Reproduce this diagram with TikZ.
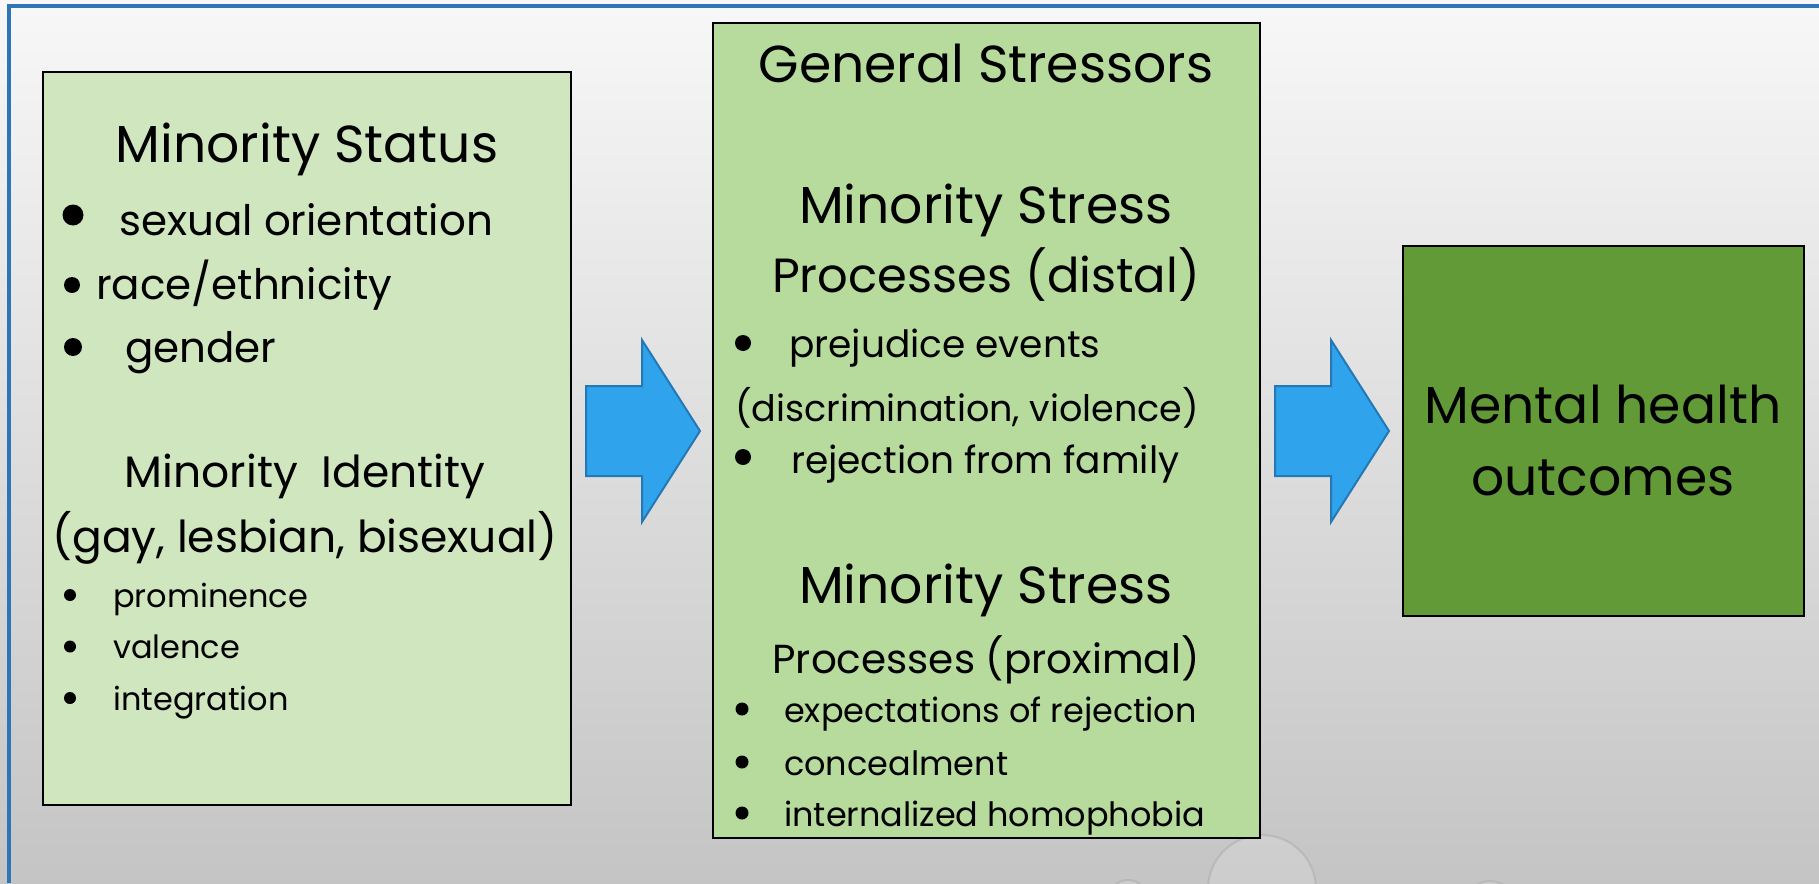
\documentclass[tikz,border=0pt]{standalone}
\usepackage{fontspec}
\setmainfont{Poppins}
\usetikzlibrary{positioning}
\definecolor{frameblue}{HTML}{2E75B6}
\definecolor{paleGreen}{HTML}{D0E6BF}
\definecolor{midGreen}{HTML}{B7DB9D}
\definecolor{darkGreen}{HTML}{629A38}
\definecolor{arrowBlue}{HTML}{2FA3EC}
\definecolor{arrowEdge}{HTML}{2478B5}
\newcommand{\fsL}{\fontsize{52}{60}\selectfont}
\newcommand{\fsP}{\fontsize{48}{56}\selectfont}
\newcommand{\fsI}{\fontsize{44}{52}\selectfont}
\newcommand{\fsM}{\fontsize{42}{50}\selectfont}
\newcommand{\fsQ}{\fontsize{40.5}{48}\selectfont}
\newcommand{\fsN}{\fontsize{37.5}{45}\selectfont}
\newcommand{\fsD}{\fontsize{36.5}{44}\selectfont}
\newcommand{\fsS}{\fontsize{33.5}{40}\selectfont}
\newcommand{\fsT}{\fontsize{32}{38}\selectfont}
\begin{document}
\begin{tikzpicture}[x=1pt,y=-1pt,
  box/.style={draw=black,line width=2.5pt,rectangle,inner sep=0pt},
  bigarrow/.style={fill=arrowBlue,draw=arrowEdge,line width=2pt,line join=miter},
  head/.style={inner sep=0pt,anchor=base},
  item/.style={inner sep=0pt,anchor=base west},
  blt/.style={circle,fill=black,inner sep=0pt,minimum size=#1},
  blt/.default=12pt,
  bubble/.style={fill=white,fill opacity=0.15,draw=gray!70,draw opacity=0.45,line width=2pt}]
  \useasboundingbox (0,0) rectangle (1819,883);
  \clip (0,0) rectangle (1819,883);
  % background and frame
  \shade[top color=white!97!black,bottom color=white!77!black] (0,0) rectangle (1819,883);
  \draw[frameblue,line width=4pt] (9,883) -- (9,6) -- (1819,6);
  \draw[bubble] (1262,889) circle (54);
  \draw[white,line width=4pt,opacity=0.7] (1262,889) ++(165:46) arc (165:110:46);
  \draw[bubble] (1128,900) circle (20);
  \draw[bubble] (1490,905) circle (24);

  % the three boxes
  \node[box,fill=paleGreen,minimum width=528pt,minimum height=733pt] (status) at (307,438.5) {};
  \node[box,fill=midGreen,minimum width=547pt,minimum height=815pt] (stress) at (986.5,430.5) {};
  \node[box,fill=darkGreen,minimum width=401pt,minimum height=370pt] (outcome) at (1603.5,431) {};

  % block arrows
  \coordinate (a1) at (586,431);
  \coordinate (a2) at (1275,431);
  \foreach \a in {a1,a2}
    \draw[bigarrow] (\a) ++(0,-45) -- ++(56,0) -- ++(0,-46) -- ++(58,91)
      -- ++(-58,91) -- ++(0,-46) -- ++(-56,0) -- cycle;

  % minority status
  \node[head,font=\fsL] (msT) at (307,162) {Minority Status};
  \node[blt=21pt] (msB1) at (73,215) {};
  \node[item,font=\fsM] (ms1) at (119,235) {sexual orientation};
  \node[blt=16pt] (msB2) at (72,285) {};
  \node[item,font=\fsM] (ms2) at (96,299) {race/ethnicity};
  \node[blt=18pt] (msB3) at (73,347) {};
  \node[item,font=\fsM] (ms3) at (125,362) {gender};
  \node[head,font=\fsI] (miT) at (305,487) {Minority\ \ Identity};
  \node[head,font=\fsI] (miS) at (305,552) {(gay, lesbian, bisexual)};
  \foreach \t [count=\i] in {prominence,valence,integration}{
    \node[blt] (miB\i) at (70,{595+51.5*(\i-1)}) {};
    \node[item,font=\fsT] (mi\i) at (113,{607+51.5*(\i-1)}) {\t};
  }

  % stressors
  \node[head,font=\fsL] (gsT) at (986,82) {General Stressors};
  \node[head,font=\fsL] (dsT) at (986,223) {Minority Stress};
  \node[head,font=\fsP] (dsS) at (986,292) {Processes (distal)};
  \node[blt=16pt] (dsB1) at (743,343) {};
  \node[item,font=\fsN] (ds1) at (789,357) {prejudice events};
  \node[item,font=\fsD] (ds2) at (735,421) {(discrimination, violence)};
  \node[blt=16pt] (dsB3) at (743,457) {};
  \node[item,font=\fsN] (ds3) at (791,473) {rejection from family};
  \node[head,font=\fsL] (psT) at (986,603) {Minority Stress};
  \node[head,font=\fsQ] (psS) at (986,673) {Processes (proximal)};
  \foreach \t/\y [count=\i] in {expectations of rejection/722,concealment/775,internalized homophobia/826}{
    \node[blt=13pt] (psB\i) at (742,\y-13) {};
    \node[item,font=\fsS] (ps\i) at (784,\y) {\t};
  }

  % outcome
  \node[head,font=\fsL] (moT) at (1603,423) {Mental health};
  \node[head,font=\fsL] (moS) at (1603,495) {outcomes};
\end{tikzpicture}
\end{document}
